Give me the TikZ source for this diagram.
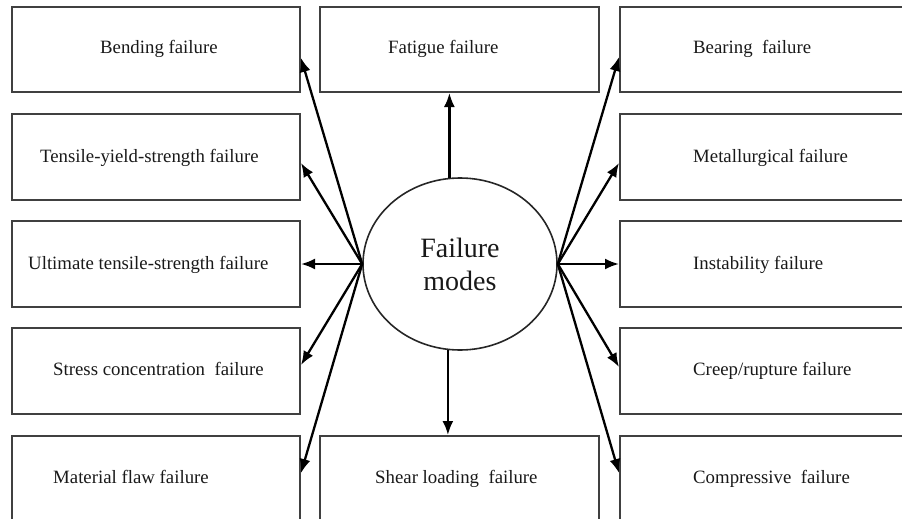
\documentclass[tikz,border=0pt]{standalone}
\usepackage{fontspec}
\setmainfont{Liberation Serif}
\usetikzlibrary{shapes.geometric,arrows.meta}
\begin{document}
\begin{tikzpicture}[x=1pt,y=-1pt,
  box/.style={draw=black!75,line width=2pt,inner sep=0pt,minimum width=#1},
  lbl/.style={anchor=base west,inner sep=0pt,font=\fontsize{18.8}{22}\selectfont,text=black!90},
  arr/.style={line width=2.3pt,-{Latex[length=14pt,width=11pt]}}]
\useasboundingbox (0,0) rectangle (902,519);
\clip (0,0) rectangle (902,519);
% left column
\node[box=288,minimum height=85] (l1) at (156,49.5) {};
\node[box=288,minimum height=86] (l2) at (156,157) {};
\node[box=288,minimum height=86] (l3) at (156,264) {};
\node[box=288,minimum height=86] (l4) at (156,371) {};
\node[box=288,minimum height=89] (l5) at (156,480.5) {};
% middle column
\node[box=279,minimum height=85] (m1) at (459.5,49.5) {};
\node[box=279,minimum height=89] (m2) at (459.5,480.5) {};
% right column
\node[box=290,minimum height=85] (r1) at (765,49.5) {};
\node[box=290,minimum height=86] (r2) at (765,157) {};
\node[box=290,minimum height=86] (r3) at (765,264) {};
\node[box=290,minimum height=86] (r4) at (765,371) {};
\node[box=290,minimum height=89] (r5) at (765,480.5) {};
% labels
\node[lbl] (t1) at (100,54) {Bending failure};
\node[lbl] (t2) at (40,162) {Tensile-yield-strength failure};
\node[lbl] (t3) at (28,269) {Ultimate tensile-strength failure};
\node[lbl] (t4) at (53,375) {Stress concentration\ \ failure};
\node[lbl] (t5) at (53,483) {Material flaw failure};
\node[lbl] (t6) at (388,54) {Fatigue failure};
\node[lbl] (t7) at (375,483) {Shear loading\ \ failure};
\node[lbl] (t8) at (693,54) {Bearing\ \ failure};
\node[lbl] (t9) at (693,162) {Metallurgical failure};
\node[lbl] (t10) at (693,269) {Instability failure};
\node[lbl] (t11) at (693,375) {Creep/rupture failure};
\node[lbl] (t12) at (693,483) {Compressive\ \ failure};
% centre
\node[ellipse,draw=black!85,line width=1.6pt,minimum width=194,minimum height=172,inner sep=0pt,
  align=center,font=\fontsize{28}{33}\selectfont,text=black!90] (fm) at (460,264) {Failure\\modes};
% connectors
\draw[arr] (fm.west) -- ([yshift=-8.5pt]l1.east);
\draw[arr] (fm.west) -- ([yshift=-6pt]l2.east);
\draw[arr] (fm.west) -- (l3.east);
\draw[arr] (fm.west) -- ([yshift=6pt]l4.east);
\draw[arr] (fm.west) -- ([yshift=7.5pt]l5.east);
\draw[arr] (fm.east) -- ([yshift=-7.5pt]r1.west);
\draw[arr] (fm.east) -- ([yshift=-6pt]r2.west);
\draw[arr] (fm.east) -- (r3.west);
\draw[arr] (fm.east) -- ([yshift=4pt]r4.west);
\draw[arr] (fm.east) -- ([yshift=7.5pt]r5.west);
\draw[arr] (fm.97.3) -- (fm.97.3 |- m1.south);
\draw[arr] (fm.262.7) -- (fm.262.7 |- m2.north);
\end{tikzpicture}
\end{document}
